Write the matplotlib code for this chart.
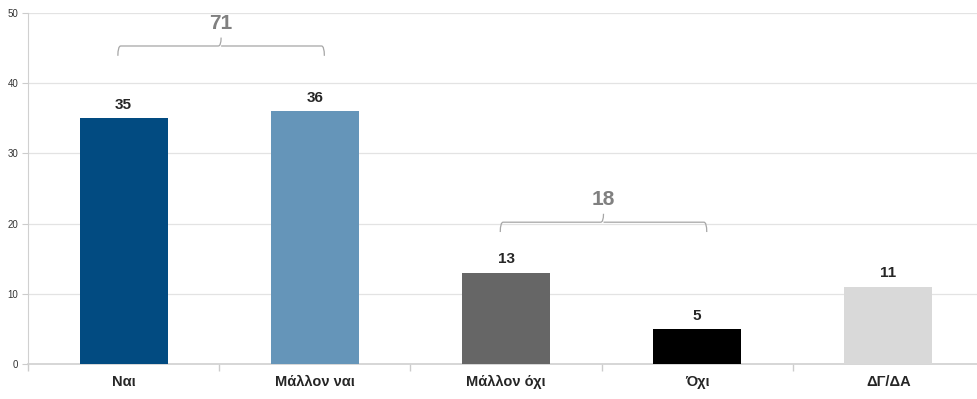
import matplotlib.pyplot as plt
from matplotlib.path import Path
from matplotlib.patches import PathPatch

# Survey answers and percentages
categories = ["Ναι", "Μάλλον ναι", "Μάλλον όχι", "Όχι", "ΔΓ/ΔΑ"]
values = [35, 36, 13, 5, 11]
colors = ["#024b81", "#6595b9", "#666666", "#000000", "#d9d9d9"]

# Grouped totals shown above brackets: (first index, last index, total)
groups = [(0, 1, 71), (2, 3, 18)]

plt.rcParams['font.family'] = ['Liberation Sans Narrow', 'Liberation Sans', 'DejaVu Sans']

fig = plt.figure(figsize=(9.77, 3.99), dpi=100)
ax = fig.add_axes([28 / 977, 35 / 399, 956 / 977, 351 / 399])

x = range(len(categories))
bars = ax.bar(x, values, width=0.46, color=colors, zorder=3)

# Value labels above each bar
for bar, v in zip(bars, values):
    ax.text(bar.get_x() + bar.get_width() / 2, v + 0.9, str(v),
            ha='center', va='bottom', fontsize=11, fontweight='bold', color='#262626')


def draw_bracket(ax, x0, x1, y, h=1.4, r=0.4):
    # Curly bracket opening downward, with a small peak in the middle
    xm = (x0 + x1) / 2
    dx = 0.015
    verts = [(x0, y - h), (x0, y), (x0 + dx, y),
             (xm - dx, y), (xm, y), (xm, y + r * 3),
             (xm, y), (xm + dx, y),
             (x1 - dx, y), (x1, y), (x1, y - h)]
    codes = [Path.MOVETO, Path.CURVE3, Path.CURVE3,
             Path.LINETO, Path.CURVE3, Path.CURVE3,
             Path.MOVETO, Path.LINETO,
             Path.LINETO, Path.CURVE3, Path.CURVE3]
    ax.add_patch(PathPatch(Path(verts, codes), fill=False, edgecolor='#a6a6a6',
                           lw=0.9, zorder=4, clip_on=False))


bracket_levels = [45.3, 20.2]
for (i0, i1, total), yb in zip(groups, bracket_levels):
    x0 = i0 - 0.03
    x1 = i1 + 0.05
    draw_bracket(ax, x0, x1, yb)
    ax.text((x0 + x1) / 2, yb + 1.9, str(total), ha='center', va='bottom',
            fontsize=15, fontweight='bold', color='#808080')

# Axes styling
ax.set_xlim(-0.5, len(categories) - 0.5)
ax.set_ylim(0, 50)
ax.set_yticks(range(0, 51, 10))
ax.set_yticklabels([str(t) for t in range(0, 51, 10)], fontsize=7, color='#333333')
ax.yaxis.grid(True, color='#e3e3e3', lw=0.9, zorder=0)
ax.tick_params(axis='y', length=4, color='#cccccc', pad=3)

ax.set_xticks(list(x))
ax.set_xticklabels(categories, fontsize=10.5, fontweight='bold', color='#262626')
ax.tick_params(axis='x', length=0, pad=8)
# Small separators between categories below the baseline
ax.set_xticks([i + 0.5 for i in range(-1, len(categories))], minor=True)
ax.tick_params(axis='x', which='minor', length=5, color='#cccccc', width=1)

for side in ['top', 'right']:
    ax.spines[side].set_visible(False)
ax.spines['left'].set_color('#d0d0d0')
ax.spines['bottom'].set_color('#d0d0d0')
ax.spines['bottom'].set_linewidth(1.2)

fig.savefig("out.png", dpi=100)
